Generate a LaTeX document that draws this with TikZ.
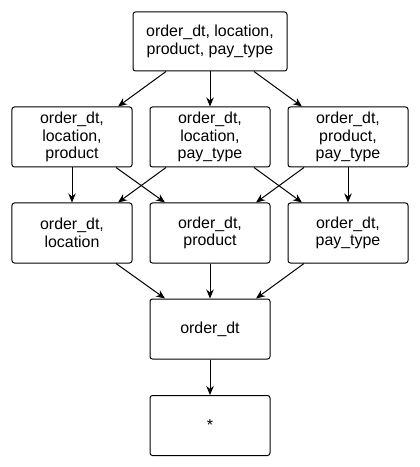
\documentclass[tikz,border=0pt]{standalone}
\usepackage{fontspec}
\setmainfont{Liberation Sans}
\usetikzlibrary{arrows.meta}
\tikzset{
  cuboid/.style={draw, rounded corners=2.5bp, line width=1bp,
    minimum width=120bp, minimum height=60bp, inner sep=0pt,
    align=center, font=\fontsize{16}{17.5}\selectfont},
  rollup/.style={-{Stealth[length=9bp,width=7.5bp]}, line width=1bp},
}

\begin{document}
\begin{tikzpicture}[x=1bp,y=-1bp]
  \useasboundingbox (0,0) rectangle (419,467);
  % levels of the cube lattice
  \node[cuboid, minimum width=154bp, minimum height=59bp] (dlpt) at (210,41.5)
    {order\_dt, location,\\product, pay\_type};
  \node[cuboid] (dlp) at (72,137) {order\_dt,\\location,\\product};
  \node[cuboid] (dlt) at (210,137) {order\_dt,\\location,\\pay\_type};
  \node[cuboid] (dpt) at (348,137) {order\_dt,\\product,\\pay\_type};
  \node[cuboid] (dl) at (72,233) {order\_dt,\\location};
  \node[cuboid] (dp) at (210,233) {order\_dt,\\product};
  \node[cuboid] (dt) at (348,233) {order\_dt,\\pay\_type};
  \node[cuboid] (d) at (210,329) {order\_dt};
  \node[cuboid] (all) at (210,425.5) {*};
  % top to three dimensions
  \draw[rollup] ([xshift=-44bp]dlpt.south) -- ([xshift=46bp]dlp.north);
  \draw[rollup] (dlpt.south) -- (dlt.north);
  \draw[rollup] ([xshift=44bp]dlpt.south) -- ([xshift=-46bp]dpt.north);
  % three to two dimensions
  \draw[rollup] (dlp.south) -- (dl.north);
  \draw[rollup] ([xshift=44bp]dlp.south) -- ([xshift=-45bp]dp.north);
  \draw[rollup] ([xshift=-44bp]dlt.south) -- ([xshift=46bp]dl.north);
  \draw[rollup] ([xshift=44bp]dlt.south) -- ([xshift=-46bp]dt.north);
  \draw[rollup] ([xshift=-44bp]dpt.south) -- ([xshift=46bp]dp.north);
  \draw[rollup] (dpt.south) -- (dt.north);
  % two to one dimension
  \draw[rollup] ([xshift=44bp]dl.south) -- ([xshift=-45bp]d.north);
  \draw[rollup] (dp.south) -- (d.north);
  \draw[rollup] ([xshift=-44bp]dt.south) -- ([xshift=46bp]d.north);
  \draw[rollup] (d.south) -- (all.north);
\end{tikzpicture}
\end{document}
